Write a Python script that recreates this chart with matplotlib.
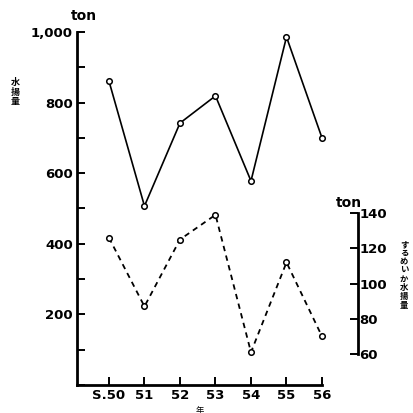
import matplotlib.pyplot as plt

plt.rcParams['font.family'] = ['DejaVu Sans', 'Noto Sans CJK JP']

# 年度 (昭和)
years = [50, 51, 52, 53, 54, 55, 56]
year_labels = ['S.50', '51', '52', '53', '54', '55', '56']
# 水揚量 (ton) - 実線, 左軸
landing_total = [861, 507, 742, 819, 578, 986, 700]
# 右軸 (ton) - 破線
landing_sub = [126, 87, 125, 139, 61, 112, 70]

left_ticks = list(range(0, 1001, 100))
left_labels = ['', '', '200', '', '400', '', '600', '', '800', '', '1,000']
right_ticks = [60, 80, 100, 120, 140]

W = 413
fig = plt.figure(figsize=(4.13, 4.13), dpi=100)
ax = fig.add_axes([77 / W, 1 - 385 / W, (322 - 77) / W, (385 - 32) / W])

ax.plot(years, landing_total, '-', color='black', lw=1.2, marker='o',
        ms=4, mfc='white', mec='black', mew=1.1, clip_on=False, zorder=3)
ax.set_xlim(49.1, 56)
ax.set_ylim(0, 1000)
ax.set_xticks(years)
ax.set_xticklabels(year_labels)
ax.set_yticks(left_ticks)
ax.set_yticklabels(left_labels)
for s in ['top', 'right']:
    ax.spines[s].set_visible(False)
for s in ['left', 'bottom']:
    ax.spines[s].set_linewidth(2.0)
ax.tick_params(axis='both', direction='in', length=6, width=1.4,
               labelsize=9.5, pad=3)
for lab in ax.get_xticklabels() + ax.get_yticklabels():
    lab.set_fontweight('bold')

# 右軸
ax2 = ax.twinx()
ax2.set_ylim(42.4, 242.8)
ax2.plot(years, landing_sub, '--', color='black', lw=1.3, dashes=(3, 2.5),
         marker='o', ms=4, mfc='white', mec='black', mew=1.1,
         clip_on=False, zorder=3)
for s in ['top', 'left', 'bottom']:
    ax2.spines[s].set_visible(False)
ax2.spines['right'].set_position(('axes', (358 - 77) / (322 - 77)))
ax2.spines['right'].set_bounds(60, 140)
ax2.spines['right'].set_linewidth(2.0)
ax2.set_yticks(right_ticks)
ax2.tick_params(axis='y', direction='in', length=6, width=1.4,
                labelsize=9.5, pad=1)
for lab in ax2.get_yticklabels():
    lab.set_fontweight('bold')

fig.text(84 / W, 1 - 16 / W, 'ton', ha='center', va='center',
         fontsize=10, fontweight='bold')
fig.text(349 / W, 1 - 203 / W, 'ton', ha='center', va='center',
         fontsize=10, fontweight='bold')
fig.text(15 / W, 1 - 92 / W, '水\n揚\n量', ha='center', va='center',
         fontsize=6.5, fontweight='bold', family=['Noto Sans CJK JP'],
         linespacing=1.1)
fig.text(404 / W, 1 - 275 / W, '\n'.join('するめいか水揚量'), ha='center',
         va='center', fontsize=6, fontweight='bold',
         family=['Noto Sans CJK JP'], linespacing=0.95)
fig.text(200 / W, 1 - 410 / W, '年', ha='center', va='center',
         fontsize=6, family=['Noto Sans CJK JP'])

fig.savefig('out.png', dpi=100)
